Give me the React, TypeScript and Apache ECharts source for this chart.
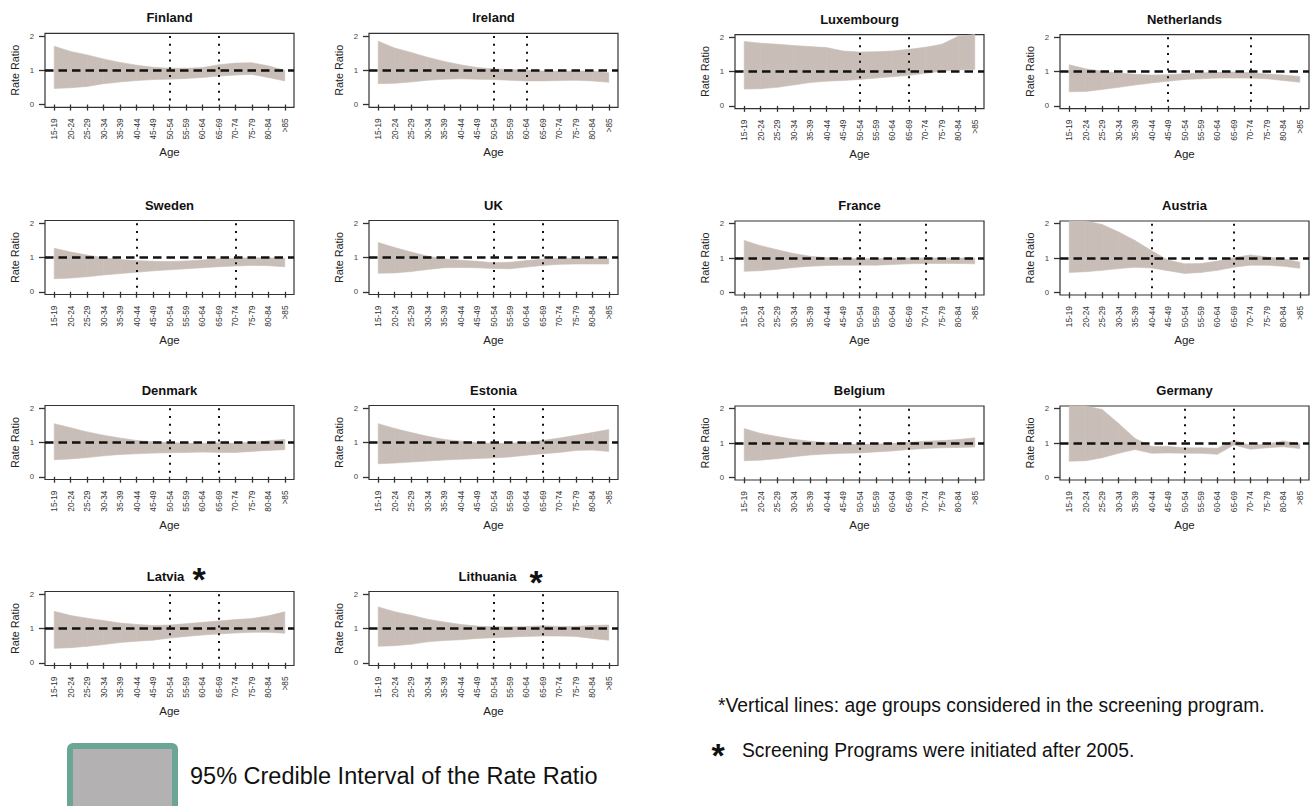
import React, { useEffect, useRef } from "react";
import * as echarts from "echarts";

// ---------- data ----------
const AGE_GROUPS = ["15-19", "20-24", "25-29", "30-34", "35-39", "40-44", "45-49", "50-54", "55-59", "60-64", "65-69", "70-74", "75-79", "80-84", ">85"];
const Y_TICKS = [0, 1, 2];

const COUNTRIES = ["Finland", "Ireland", "Luxembourg", "Netherlands", "Sweden", "UK", "France", "Austria", "Denmark", "Estonia", "Belgium", "Germany", "Latvia", "Lithuania"];

const FINLAND_UPPER = [1.70, 1.55, 1.45, 1.33, 1.23, 1.15, 1.09, 1.06, 1.06, 1.08, 1.16, 1.21, 1.22, 1.13, 1.00];
const FINLAND_LOWER = [0.47, 0.49, 0.53, 0.61, 0.66, 0.70, 0.73, 0.74, 0.76, 0.79, 0.83, 0.86, 0.88, 0.79, 0.69];
const IRELAND_UPPER = [1.85, 1.65, 1.52, 1.38, 1.26, 1.16, 1.08, 1.04, 1.02, 1.00, 0.98, 0.97, 0.98, 0.98, 0.93];
const IRELAND_LOWER = [0.61, 0.62, 0.66, 0.71, 0.74, 0.75, 0.74, 0.73, 0.71, 0.69, 0.69, 0.70, 0.71, 0.69, 0.65];
const LUXEMBOURG_UPPER = [1.88, 1.83, 1.80, 1.76, 1.73, 1.70, 1.60, 1.57, 1.58, 1.60, 1.65, 1.71, 1.80, 2.03, 2.30];
const LUXEMBOURG_LOWER = [0.49, 0.50, 0.54, 0.61, 0.68, 0.72, 0.74, 0.77, 0.81, 0.85, 0.89, 0.95, 1.01, 1.05, 1.06];
const NETHERLANDS_UPPER = [1.20, 1.08, 1.01, 0.96, 0.92, 0.90, 0.91, 0.94, 0.96, 0.98, 0.99, 0.97, 0.93, 0.90, 0.86];
const NETHERLANDS_LOWER = [0.41, 0.42, 0.48, 0.54, 0.61, 0.67, 0.72, 0.77, 0.79, 0.81, 0.81, 0.81, 0.79, 0.74, 0.69];
const SWEDEN_UPPER = [1.27, 1.16, 1.07, 0.99, 0.94, 0.91, 0.89, 0.88, 0.90, 0.93, 0.96, 0.98, 0.99, 0.99, 0.98];
const SWEDEN_LOWER = [0.38, 0.40, 0.44, 0.49, 0.53, 0.57, 0.61, 0.64, 0.67, 0.70, 0.73, 0.75, 0.77, 0.76, 0.73];
const UK_UPPER = [1.44, 1.29, 1.16, 1.04, 0.96, 0.92, 0.89, 0.85, 0.86, 0.91, 0.95, 0.97, 0.98, 0.98, 0.96];
const UK_LOWER = [0.54, 0.55, 0.59, 0.65, 0.70, 0.71, 0.70, 0.68, 0.67, 0.72, 0.77, 0.80, 0.81, 0.81, 0.81];
const FRANCE_UPPER = [1.51, 1.36, 1.24, 1.13, 1.05, 1.01, 0.99, 0.98, 0.98, 0.99, 1.00, 1.00, 1.00, 1.00, 1.00];
const FRANCE_LOWER = [0.61, 0.63, 0.67, 0.72, 0.76, 0.78, 0.79, 0.79, 0.79, 0.81, 0.83, 0.84, 0.84, 0.84, 0.83];
const AUSTRIA_UPPER = [2.40, 2.12, 1.98, 1.76, 1.51, 1.21, 0.94, 0.83, 0.84, 0.91, 1.01, 1.09, 1.03, 0.98, 0.88];
const AUSTRIA_LOWER = [0.58, 0.60, 0.64, 0.69, 0.73, 0.71, 0.63, 0.55, 0.58, 0.64, 0.73, 0.79, 0.79, 0.76, 0.70];
const DENMARK_UPPER = [1.55, 1.43, 1.31, 1.21, 1.13, 1.06, 1.02, 1.00, 0.98, 0.98, 0.99, 0.98, 1.01, 1.05, 1.09];
const DENMARK_LOWER = [0.50, 0.52, 0.56, 0.61, 0.65, 0.67, 0.69, 0.70, 0.71, 0.72, 0.71, 0.71, 0.74, 0.77, 0.79];
const ESTONIA_UPPER = [1.55, 1.41, 1.29, 1.18, 1.09, 1.04, 1.00, 0.97, 0.98, 1.01, 1.06, 1.13, 1.21, 1.29, 1.38];
const ESTONIA_LOWER = [0.38, 0.40, 0.43, 0.46, 0.49, 0.51, 0.53, 0.55, 0.58, 0.63, 0.67, 0.71, 0.77, 0.78, 0.74];
const BELGIUM_UPPER = [1.42, 1.28, 1.19, 1.11, 1.05, 1.01, 0.97, 0.96, 0.97, 0.99, 1.02, 1.05, 1.07, 1.10, 1.15];
const BELGIUM_LOWER = [0.48, 0.50, 0.54, 0.60, 0.65, 0.68, 0.70, 0.71, 0.74, 0.77, 0.81, 0.84, 0.86, 0.87, 0.88];
const GERMANY_UPPER = [2.40, 2.15, 1.98, 1.57, 1.13, 0.90, 0.90, 0.86, 0.86, 0.85, 1.08, 0.93, 0.97, 1.06, 0.97];
const GERMANY_LOWER = [0.47, 0.48, 0.57, 0.70, 0.81, 0.70, 0.71, 0.70, 0.70, 0.67, 0.94, 0.82, 0.86, 0.89, 0.84];
const LATVIA_UPPER = [1.50, 1.38, 1.30, 1.23, 1.16, 1.12, 1.09, 1.10, 1.14, 1.18, 1.22, 1.26, 1.29, 1.37, 1.49];
const LATVIA_LOWER = [0.42, 0.44, 0.48, 0.53, 0.59, 0.63, 0.66, 0.72, 0.77, 0.81, 0.84, 0.87, 0.89, 0.89, 0.86];
const LITHUANIA_UPPER = [1.63, 1.49, 1.39, 1.27, 1.19, 1.12, 1.07, 1.05, 1.05, 1.06, 1.08, 1.06, 1.06, 1.09, 1.10];
const LITHUANIA_LOWER = [0.48, 0.50, 0.54, 0.61, 0.65, 0.67, 0.71, 0.73, 0.75, 0.77, 0.78, 0.78, 0.77, 0.71, 0.66];

const UPPER = [FINLAND_UPPER, IRELAND_UPPER, LUXEMBOURG_UPPER, NETHERLANDS_UPPER, SWEDEN_UPPER, UK_UPPER, FRANCE_UPPER, AUSTRIA_UPPER, DENMARK_UPPER, ESTONIA_UPPER, BELGIUM_UPPER, GERMANY_UPPER, LATVIA_UPPER, LITHUANIA_UPPER];
const LOWER = [FINLAND_LOWER, IRELAND_LOWER, LUXEMBOURG_LOWER, NETHERLANDS_LOWER, SWEDEN_LOWER, UK_LOWER, FRANCE_LOWER, AUSTRIA_LOWER, DENMARK_LOWER, ESTONIA_LOWER, BELGIUM_LOWER, GERMANY_LOWER, LATVIA_LOWER, LITHUANIA_LOWER];

// age groups bounding the screening programme (vertical dotted lines)
const SCREENING = [
  ["50-54", "65-69"], ["50-54", "60-64"], ["50-54", "65-69"], ["45-49", "70-74"],
  ["40-44", "70-74"], ["50-54", "65-69"], ["50-54", "70-74"], ["40-44", "65-69"],
  ["50-54", "65-69"], ["50-54", "65-69"], ["50-54", "65-69"], ["50-54", "65-69"],
  ["50-54", "65-69"], ["50-54", "65-69"],
];
const STARRED = ["Latvia", "Lithuania"];

// ---------- layout ----------
const COL_LEFT = [45, 369, 735, 1060];
const ROW_TOP_LEFT = [33.3, 220.5, 405.5, 591.5];
const ROW_TOP_RIGHT = [34.6, 221, 406, 592];
const PLOT_W = 249;
const PLOT_H = 74;
const BAND = "#c9beb7";
const FONT = "Liberation Sans";

export default function App() {
  const ref = useRef<HTMLDivElement>(null);

  useEffect(() => {
    if (!ref.current) return;
    const chart = echarts.init(ref.current, undefined, { renderer: "svg" });
    const xTicks = AGE_GROUPS.map((_, i) => i + 1);

    const panels = COUNTRIES.map((name, i) => {
      const col = i % 4;
      const row = Math.floor(i / 4);
      const left = COL_LEFT[col];
      const top = col < 2 ? ROW_TOP_LEFT[row] : ROW_TOP_RIGHT[row];
      return { name, left, top };
    });

    const grid = panels.map((p) => ({
      left: p.left,
      top: p.top,
      width: PLOT_W,
      height: PLOT_H,
      show: true,
      borderColor: "#333",
      borderWidth: 1.2,
      backgroundColor: "transparent",
      containLabel: false,
      outerBoundsMode: "none",
    }));

    const xAxis = panels.map((_, i) => ({
      type: "value",
      gridIndex: i,
      min: 0.44,
      max: 15.56,
      name: "Age",
      nameLocation: "middle",
      nameGap: 39,
      nameTextStyle: { fontSize: 11.5, color: "#222", fontFamily: FONT },
      axisLine: { show: false },
      axisTick: { show: true, customValues: xTicks, length: 6, lineStyle: { color: "#333", width: 1.3 } },
      axisLabel: {
        customValues: xTicks,
        rotate: 90,
        fontSize: 8.3,
        color: "#333",
        margin: 11,
        fontFamily: FONT,
        formatter: (v: number) => AGE_GROUPS[Math.round(v) - 1] ?? "",
      },
      splitLine: { show: false },
    }));

    const yAxis = panels.map((_, i) => ({
      type: "value",
      gridIndex: i,
      min: -0.08,
      max: 2.08,
      name: "Rate Ratio",
      nameLocation: "middle",
      nameGap: 25,
      nameRotate: 90,
      nameTextStyle: { fontSize: 10.8, color: "#222", fontFamily: FONT },
      axisLine: { show: false },
      axisTick: { show: true, customValues: Y_TICKS, length: 6, lineStyle: { color: "#333", width: 1.3 } },
      axisLabel: { customValues: Y_TICKS, fontSize: 7.8, color: "#444", margin: 11, fontFamily: FONT },
      splitLine: { show: false },
    }));

    const series: any[] = [];
    panels.forEach((_, i) => {
      const lower = LOWER[i];
      const upper = UPPER[i];
      const n = lower.length;
      const vlines = SCREENING[i].map((ag) => {
        const x = AGE_GROUPS.indexOf(ag) + 1;
        return [{ coord: [x, 2] }, { coord: [x, 0] }];
      });
      // credible band as quads between consecutive age groups
      series.push({
        type: "custom",
        xAxisIndex: i,
        yAxisIndex: i,
        silent: true,
        z: 2,
        data: lower.map((lo, j) => [j + 1, lo, upper[j]]),
        renderItem: (params: any, api: any) => {
          const j = params.dataIndex;
          if (j >= n - 1) return null;
          const pts = [
            api.coord([j + 1, lower[j]]),
            api.coord([j + 2, lower[j + 1]]),
            api.coord([j + 2, upper[j + 1]]),
            api.coord([j + 1, upper[j]]),
          ];
          const cs = params.coordSys;
          const clipped = echarts.graphic.clipPointsByRect(pts, {
            x: cs.x,
            y: cs.y,
            width: cs.width,
            height: cs.height,
          });
          return {
            type: "polygon",
            shape: { points: clipped },
            style: { fill: BAND, stroke: BAND, lineWidth: 0.6 },
          };
        },
      });
      // invisible carrier for the reference lines
      series.push({
        type: "line",
        xAxisIndex: i,
        yAxisIndex: i,
        data: lower.map((v, j) => [j + 1, v]),
        symbol: "none",
        silent: true,
        lineStyle: { opacity: 0 },
        z: 5,
        markLine: {
          silent: true,
          symbol: "none",
          animation: false,
          z: 10,
          label: { show: false },
          lineStyle: { color: "#111", width: 2, type: [2, 5.8] },
          data: [
            { yAxis: 1, lineStyle: { color: "#111", width: 2.5, type: [8.5, 5] } },
            ...vlines,
          ],
        },
      });
    });

    const title = panels.map((p) => {
      const shift = p.name === "Latvia" ? -4 : p.name === "Lithuania" ? -6 : 0;
      return {
        text: p.name,
        left: p.left + PLOT_W / 2 + (STARRED.includes(p.name) ? shift : 0),
        top: p.top - 22,
        textAlign: "center",
        padding: 0,
        textStyle: { fontSize: 13, fontWeight: "bold", color: "#111", fontFamily: FONT },
      };
    });

    const starText = (x: number, y: number) => ({
      type: "text",
      x,
      y,
      silent: true,
      style: {
        text: "*",
        fontSize: 34,
        fontWeight: "bold",
        fontFamily: FONT,
        fill: "#111",
        align: "center",
        verticalAlign: "middle",
      },
    });

    const graphic: any[] = [
      starText(199, 579),
      starText(536, 582),
      {
        type: "rect",
        silent: true,
        shape: { x: 70, y: 746, width: 105, height: 70, r: 3 },
        style: { fill: "#b3b1b2", stroke: "#6aa595", lineWidth: 6 },
      },
      {
        type: "text",
        x: 190,
        y: 776,
        silent: true,
        style: { text: "95% Credible Interval of the Rate Ratio", fontSize: 23.5, fontFamily: FONT, fill: "#111", verticalAlign: "middle" },
      },
      {
        type: "text",
        x: 718,
        y: 705,
        silent: true,
        style: { text: "*Vertical lines: age groups considered in the screening program.", fontSize: 19.3, fontFamily: FONT, fill: "#111", verticalAlign: "middle" },
      },
      starText(718, 755),
      {
        type: "text",
        x: 742,
        y: 750,
        silent: true,
        style: { text: "Screening Programs were initiated after 2005.", fontSize: 19.3, fontFamily: FONT, fill: "#111", verticalAlign: "middle" },
      },
    ];

    chart.setOption({
      animation: false,
      backgroundColor: "#fff",
      textStyle: { fontFamily: FONT },
      title,
      grid,
      xAxis,
      yAxis,
      series,
      graphic,
    });

    return () => chart.dispose();
  }, []);

  return <div ref={ref} style={{ position: "fixed", left: 0, top: 0, width: 1314, height: 806 }} />;
}
